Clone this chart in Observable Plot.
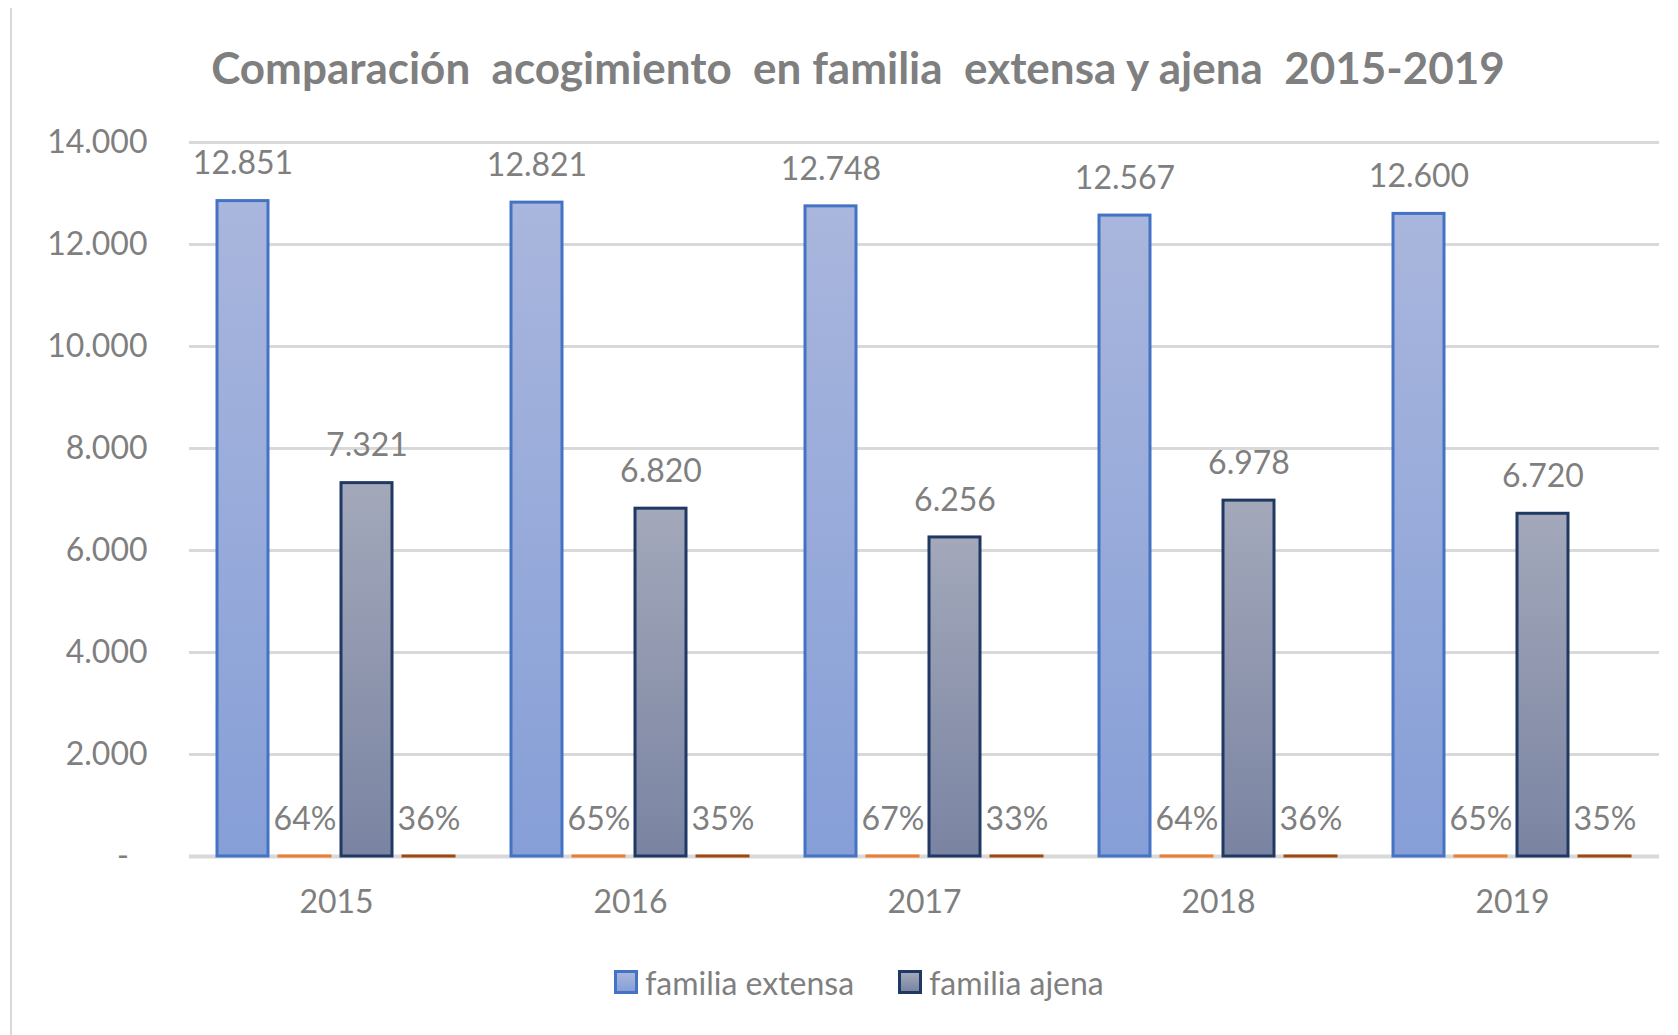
<!DOCTYPE html>
<html><head><meta charset="utf-8">
<script src="https://cdn.jsdelivr.net/npm/d3@7"></script>
<script src="https://cdn.jsdelivr.net/npm/@observablehq/plot@0.6"></script>
<style>
body{margin:0;background:#fff;font-family:Lato,sans-serif;}
#wrap{position:relative;width:1678px;height:1035px;overflow:hidden;background:#fff}
#border{position:absolute;left:10px;top:8px;bottom:0;width:2px;background:#d9d9d9}
#title{height:110px;box-sizing:border-box;padding-top:44px;padding-left:38px;line-height:46px;text-align:center;font-weight:700;font-size:44px;color:#7f7f7f;white-space:pre}
#chart{height:830px}
#legend{height:84px;display:flex;justify-content:center;align-items:center;padding-left:40px;font-size:32px;color:#7f7f7f}
.item{display:flex;align-items:center;margin:0 22px}
.sw{width:18px;height:18px;border:3px solid;margin-right:7px}
</style></head>
<body><div id="wrap"><div id="border"></div>
<div id="title"></div>
<div id="chart"></div>
<div id="legend"></div>
</div>
<script>
const title = "Comparación  acogimiento  en familia  extensa y ajena  2015-2019";
const years = ["2015","2016","2017","2018","2019"];
const extensa = [12851,12821,12748,12567,12600];
const ajena = [7321,6820,6256,6978,6720];
const pctExtensa = [64,65,67,64,65];
const pctAjena = [36,35,33,36,35];
const yTicks = [0,2000,4000,6000,8000,10000,12000,14000];
const legendNames = ["familia extensa","familia ajena"];

const loc = d3.formatLocale({decimal:",",thousands:".",grouping:[3],currency:["","€"]});
const fmt = loc.format(",d");
const yFmt = v => v === 0 ? "-\u2007" : fmt(v);

const rows = years.flatMap((yr,i)=>[
  {year:yr, s:"ext", v:extensa[i], label:fmt(extensa[i])},
  {year:yr, s:"pe", v:pctExtensa[i]/100, label:pctExtensa[i]+"%"},
  {year:yr, s:"aj", v:ajena[i], label:fmt(ajena[i])},
  {year:yr, s:"pa", v:pctAjena[i]/100, label:pctAjena[i]+"%"}
]);

document.getElementById("title").textContent = title;

const plot = Plot.plot({
  width:1678, height:830,
  marginLeft:187, marginRight:17, marginTop:32, marginBottom:84,
  style:{fontFamily:"Lato, sans-serif", fontSize:"32px", color:"#7f7f7f", background:"#fff"},
  fx:{domain:years, padding:0, label:null, axis:"bottom", tickSize:0, tickPadding:34},
  x:{domain:["ext","pe","aj","pa"], axis:null, paddingInner:0.17, paddingOuter:0.45},
  y:{domain:[0,14000], ticks:yTicks, tickFormat:yFmt, tickSize:0, tickPadding:42, label:null},
  marks:[
    Plot.ruleY(yTicks.filter(d=>d>0), {stroke:"#d9d9d9", strokeWidth:3}),
    Plot.ruleY([0], {stroke:"#d9d9d9", strokeWidth:4}),
    Plot.barY(rows, {filter:d=>d.s==="ext", fx:"year", x:"s", y:"v", fill:"url(#gBlue)", stroke:"#4472C4", strokeWidth:3}),
    Plot.barY(rows, {filter:d=>d.s==="aj", fx:"year", x:"s", y:"v", fill:"url(#gGray)", stroke:"#203864", strokeWidth:3}),
    Plot.barY(rows, {filter:d=>d.s==="pe", fx:"year", x:"s", y:"v", fill:"#ED7D31", stroke:"#ED7D31", strokeWidth:3}),
    Plot.barY(rows, {filter:d=>d.s==="pa", fx:"year", x:"s", y:"v", fill:"#9E480E", stroke:"#9E480E", strokeWidth:3}),
    Plot.text(rows, {fx:"year", x:"s", y:"v", text:"label", dy:-37, fill:"#7f7f7f", fontSize:32})
  ]
});

const svg = d3.select(plot);
const defs = svg.insert("defs", ":first-child");
function grad(id, top, bottom){
  const g = defs.append("linearGradient").attr("id", id).attr("x1",0).attr("y1",0).attr("x2",0).attr("y2",1);
  g.append("stop").attr("offset","0%").attr("stop-color", top);
  g.append("stop").attr("offset","100%").attr("stop-color", bottom);
}
grad("gBlue", "#a9b6dd", "#869fd7");
grad("gGray", "#a3a8ba", "#7a84a2");
document.getElementById("chart").appendChild(plot);

const leg = d3.select("#legend");
const legStyles = [{fill:"linear-gradient(#a9b6dd,#869fd7)", stroke:"#4472C4"},{fill:"linear-gradient(#a3a8ba,#7a84a2)", stroke:"#203864"}];
legendNames.forEach((n,i)=>{
  const it = leg.append("div").attr("class","item");
  it.append("div").attr("class","sw").style("background", legStyles[i].fill).style("border-color", legStyles[i].stroke);
  it.append("span").text(n);
});
</script>
</body></html>
